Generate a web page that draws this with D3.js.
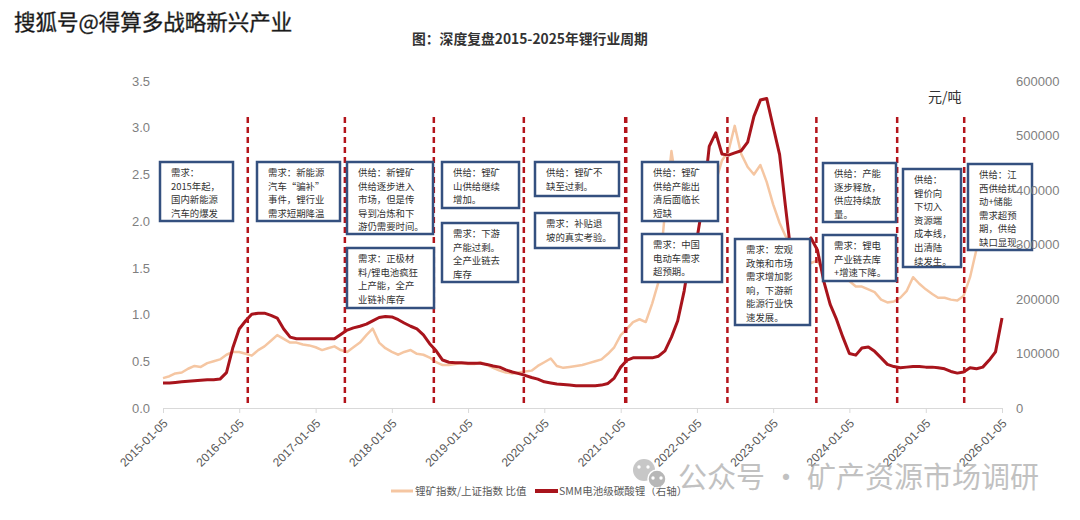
<!DOCTYPE html>
<html><head><meta charset="utf-8">
<script src="https://cdn.jsdelivr.net/npm/d3@7"></script>
<style>
body{margin:0;background:#fff;}
svg{display:block;font-family:"Liberation Sans","Noto Sans CJK SC",sans-serif;}
.cjk{font-family:"Noto Sans CJK SC",sans-serif;}
</style>
</head><body><svg id="c" width="1080" height="520"></svg>
<script>
// ---------- data ----------
const startDate = "2015-01-05";
// 锂矿指数/上证指数 比值 (monthly, from 2015-01)
const ratioValues = [
0.32,0.34,0.37,0.38,0.42,0.45,0.44,0.48,0.50,0.52,0.57,0.60,
0.60,0.58,0.56,0.62,0.66,0.72,0.78,0.74,0.70,0.70,0.68,0.67,
0.65,0.62,0.64,0.66,0.62,0.60,0.65,0.70,0.78,0.85,0.70,0.64,
0.60,0.57,0.60,0.62,0.58,0.57,0.54,0.49,0.46,0.46,0.47,0.48,
0.47,0.47,0.49,0.46,0.43,0.40,0.38,0.37,0.38,0.39,0.40,0.45,
0.49,0.53,0.45,0.43,0.44,0.45,0.46,0.48,0.50,0.52,0.58,0.65,
0.78,0.85,0.92,0.95,0.92,1.12,1.35,2.10,2.75,2.30,2.25,2.40,
2.45,2.55,2.50,2.42,2.65,2.75,3.02,2.72,2.58,2.50,2.60,2.42,
2.18,1.98,1.84,1.77,1.72,1.67,1.55,1.58,1.45,1.42,1.52,1.47,
1.36,1.30,1.30,1.27,1.24,1.16,1.13,1.14,1.18,1.25,1.40,1.33,
1.27,1.22,1.18,1.18,1.16,1.15,1.20,1.40,1.70,1.80,1.82,1.85,
1.87
];
// SMM电池级碳酸锂 (元/吨, monthly, from 2015-01)
const priceValues = [
46000,46000,47000,48000,49000,50000,51000,52000,52000,53000,65000,110000,
145000,160000,172000,174000,174000,170000,165000,145000,130000,127000,127000,127000,
127000,127000,127000,127000,135000,143000,147000,150000,154000,160000,166000,168000,
167000,162000,156000,150000,145000,134000,118000,105000,88000,84000,83000,83000,
82000,82000,82000,80000,77000,75000,70000,66000,63000,60000,56000,53000,
48000,46000,44000,43000,42000,41000,41000,41000,41000,42000,45000,55000,
75000,88000,92000,92000,92000,92000,95000,105000,130000,160000,215000,285000,
310000,382000,480000,505000,466000,464000,468000,472000,488000,535000,565000,568000,
516000,465000,370000,270000,185000,300000,312000,290000,232000,190000,162000,130000,
100000,97000,110000,112000,104000,92000,80000,76000,74000,75000,76000,76000,
75000,75000,74000,72000,67000,64000,66000,74000,72000,75000,88000,103000,
165000
];
const xTickLabels = ["2015-01-05","2016-01-05","2017-01-05","2018-01-05","2019-01-05","2020-01-05",
  "2021-01-05","2022-01-05","2023-01-05","2024-01-05","2025-01-05","2026-01-05"];
const leftTicks = [0,0.5,1.0,1.5,2.0,2.5,3.0,3.5];
const rightTicks = [0,100000,200000,300000,400000,500000,600000];
const cycleDates = ["2016-02-15","2017-05-25","2018-07-25","2019-09-29","2021-01-29",
  "2022-05-31","2023-07-31","2024-08-21","2025-07-08"];
const noteTexts = [
  ["需求：","2015年起，","国内新能源","汽车的爆发"],
  ["需求：新能源","汽车“骗补”","事件，锂行业","需求短期降温"],
  ["供给：新锂矿","供给逐步进入","市场，但是传","导到冶炼和下","游仍需要时间。"],
  ["需求：正极材","料/锂电池疯狂","上产能，全产","业链补库存"],
  ["供给：锂矿","山供给继续","增加。"],
  ["需求：下游","产能过剩。","全产业链去","库存"],
  ["供给：锂矿不","缺至过剩。"],
  ["需求：补贴退","坡的真实考验。"],
  ["供给：锂矿","供给产能出","清后面临长","短缺"],
  ["需求：中国","电动车需求","超预期。"],
  ["需求：宏观","政策和市场","需求增加影","响，下游新","能源行业快","速发展。"],
  ["供给：产能","逐步释放，","供应持续放","量。"],
  ["需求：锂电","产业链去库","+增速下降。"],
  ["供给：","锂价向","下切入","资源端","成本线，","出清陆","续发生。"],
  ["供给：江","西供给扰","动+储能","需求超预","期，供给","缺口显现。"]
];
const titleText = "图：深度复盘2015-2025年锂行业周期";
const legendLabels = ["锂矿指数/上证指数 比值","SMM电池级碳酸锂（右轴）"];
const unitLabel = "元/吨";
const watermarkTop = "搜狐号@得算多战略新兴产业";
const watermarkBottom = "公众号 · 矿产资源市场调研";

// ---------- layout (positions / styles) ----------
const noteBoxes = [
  [160,162,73,59],[257,162,83,59],[347,162,86,72],[347,248,87,60],
  [442,162,77,46],[442,223,76,59],[535,162,84,34],[535,213,84,35],
  [642,162,76,59],[642,234,80,48],[735,239,75,86],[823,163,73,59],
  [823,235,73,46],[903,169,58,98],[968,164,64,86]
];
const C = {peach:"#f5c6a2", red:"#a8141c", dash:"#b3141b", box:"#34507f", axis:"#d9d9d9", label:"#7f7f7f"};
const NOTE_FS = 9.4, NOTE_LH = 13.6;

const parse = d3.timeParse("%Y-%m-%d");
const t0 = parse(startDate);
const ratio = ratioValues.map((v,i)=>({d:d3.timeMonth.offset(t0,i), v}));
const price = priceValues.map((v,i)=>({d:d3.timeMonth.offset(t0,i), v}));

const x = d3.scaleTime().domain([parse("2015-01-05"), parse("2026-01-05")]).range([163,1002]);
const yL = d3.scaleLinear().domain([0,3.5]).range([408,81]);
const yR = d3.scaleLinear().domain([0,600000]).range([408,81]);

const svg = d3.select("#c");

// watermark top
svg.append("text").attr("class","cjk").attr("x",14).attr("y",30)
  .attr("font-size",21.5).attr("fill","#111").attr("stroke","#444").attr("stroke-width",0.4)
  .text(watermarkTop);

// title
svg.append("text").attr("class","cjk").attr("x",412).attr("y",44)
  .attr("font-size",13.8).attr("font-weight","bold").attr("fill","#333").text(titleText);

// unit
svg.append("text").attr("class","cjk").attr("x",928).attr("y",102)
  .attr("font-size",14).attr("fill","#333").text(unitLabel);

// x axis
const xAxis = d3.axisBottom(x).tickValues(xTickLabels.map(parse)).tickFormat(d3.timeFormat("%Y-%m-%d")).tickSize(5).tickSizeOuter(0);
const gx = svg.append("g").attr("transform","translate(0,408)").call(xAxis);
gx.select(".domain").attr("stroke",C.axis);
gx.selectAll(".tick line").attr("stroke",C.axis);
gx.selectAll(".tick text").attr("fill","#595959").attr("font-size",12)
  .attr("text-anchor","end").attr("dy",0).attr("y",0)
  .attr("transform","translate(5,16) rotate(-45)");

// left axis labels
const gl = svg.append("g").attr("transform","translate(150,0)")
  .call(d3.axisLeft(yL).tickValues(leftTicks).tickFormat(d3.format(".1f")).tickSize(0));
gl.select(".domain").remove();
gl.selectAll("text").attr("fill",C.label).attr("font-size",13).attr("x",0);

// lines
svg.append("path").datum(ratio).attr("fill","none").attr("stroke",C.peach).attr("stroke-width",2.5)
  .attr("stroke-linejoin","round")
  .attr("d", d3.line().x(d=>x(d.d)).y(d=>yL(d.v)));
svg.append("path").datum(price).attr("fill","none").attr("stroke",C.red).attr("stroke-width",3)
  .attr("stroke-linejoin","round")
  .attr("d", d3.line().x(d=>x(d.d)).y(d=>yR(d.v)));

// cycle dashed lines
svg.append("g").selectAll("line").data(cycleDates).join("line")
  .attr("x1",d=>x(parse(d))).attr("x2",d=>x(parse(d)))
  .attr("y1",117).attr("y2",403)
  .attr("stroke",C.dash).attr("stroke-width",(d,i)=>i===4?3.5:2.5).attr("stroke-dasharray","6,4");

// note boxes
const gn = svg.append("g").attr("class","cjk");
noteTexts.forEach((lines,i)=>{
  const [bx,by,bw,bh] = noteBoxes[i];
  gn.append("rect").attr("x",bx).attr("y",by).attr("width",bw).attr("height",bh)
    .attr("fill","#fff").attr("stroke",C.box).attr("stroke-width",2.5);
  gn.append("g").selectAll("text").data(lines).join("text")
    .attr("x",bx+11).attr("y",(d,j)=>by+14+j*NOTE_LH)
    .attr("font-size",NOTE_FS).attr("fill","#333").text(d=>d);
});

// right axis labels (on top)
const gr = svg.append("g").attr("transform","translate(1016,0)")
  .call(d3.axisRight(yR).tickValues(rightTicks).tickFormat(d3.format("d")).tickSize(0));
gr.select(".domain").remove();
gr.selectAll("text").attr("fill",C.label).attr("font-size",13).attr("x",0);

// legend
const lg = svg.append("g").attr("class","cjk");
lg.append("line").attr("x1",391).attr("x2",413).attr("y1",491).attr("y2",491).attr("stroke",C.peach).attr("stroke-width",3);
lg.append("text").attr("x",415).attr("y",495).attr("font-size",10.5).attr("fill","#595959").text(legendLabels[0]);
lg.append("line").attr("x1",535).attr("x2",558).attr("y1",491).attr("y2",491).attr("stroke",C.red).attr("stroke-width",4);
lg.append("text").attr("x",559).attr("y",495).attr("font-size",10.5).attr("fill","#595959").text(legendLabels[1]);

// bottom watermark with chat icon
const wm = svg.append("g").attr("opacity",0.7);
wm.append("circle").attr("cx",644).attr("cy",470).attr("r",11).attr("fill","#b0b0b0");
wm.append("circle").attr("cx",657).attr("cy",479).attr("r",9).attr("fill","#9a9a9a").attr("stroke","#fff").attr("stroke-width",1.5);
[[639,467],[648,467],[653,478],[661,478]].forEach(p=>wm.append("circle").attr("cx",p[0]).attr("cy",p[1]).attr("r",1.7).attr("fill","#fff"));
wm.append("text").attr("class","cjk").attr("x",678).attr("y",488).attr("font-size",29)
  .attr("fill","#a8a8a8").text(watermarkBottom);
</script>
</body></html>
